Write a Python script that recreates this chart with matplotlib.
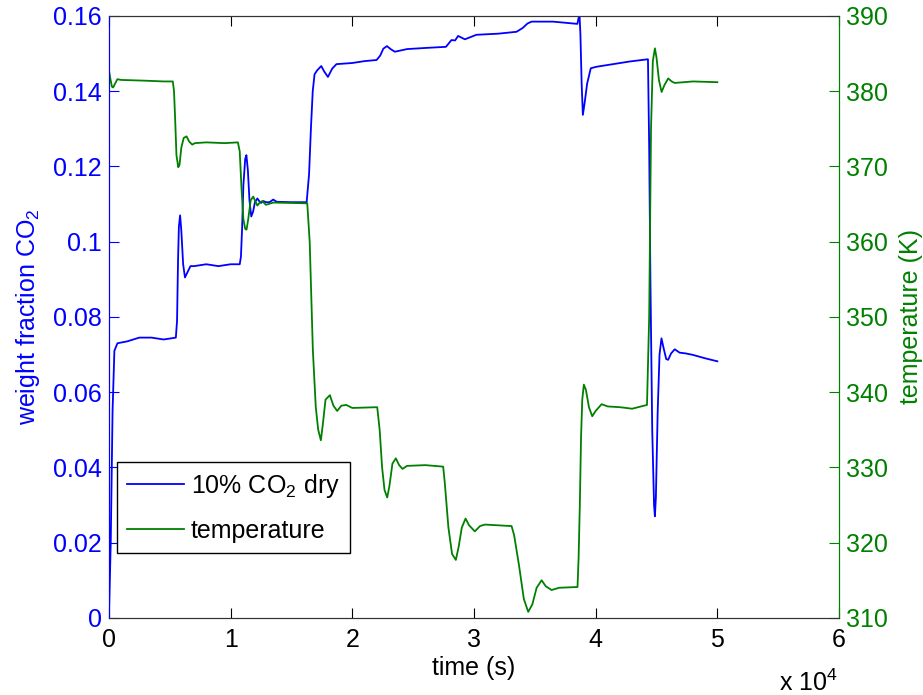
import matplotlib
matplotlib.use('Agg')
import matplotlib.pyplot as plt
from matplotlib.ticker import FuncFormatter
from matplotlib.lines import Line2D

plt.rcParams['font.family'] = ['Liberation Sans', 'DejaVu Sans']
plt.rcParams['mathtext.default'] = 'regular'

# CO2 weight fraction (10% CO2 dry)
co2_time = [0, 150, 300, 450, 700, 1500, 2500, 3500, 4500, 5500,
            5600, 5680, 5750, 5850, 5950, 6100, 6250, 6400, 6700, 7000,
            8000, 9000, 10000, 10750, 10850, 10950, 11050, 11200, 11300, 11420,
            11550, 11700, 11850, 12000, 12200, 12350, 12500, 12700, 12900, 13200,
            13500, 13800, 15000, 16250, 16450, 16600, 16750, 16900, 17100, 17450,
            17700, 18000, 18350, 18700, 20000, 21000, 22000, 22300, 22550, 22850,
            23150, 23500, 24500, 26000, 27700, 28150, 28450, 28700, 29250, 30200,
            32000, 33500, 34000, 34400, 34730, 36500, 38500, 38600, 38680, 38750,
            38850, 38950, 39100, 39300, 39600, 40070, 42800, 44300, 44400, 44500,
            44650, 44800, 44870, 44950, 45100, 45250, 45410, 45600, 45800, 45960,
            46200, 46500, 46900, 47400, 48000, 49000, 50000]
co2_frac = [0.0, 0.02, 0.055, 0.071, 0.073, 0.0735, 0.0745, 0.0745, 0.074, 0.0745,
            0.079, 0.095, 0.104, 0.107, 0.103, 0.094, 0.0905, 0.0915, 0.0935, 0.0935,
            0.094, 0.0935, 0.094, 0.094, 0.096, 0.104, 0.115, 0.122, 0.123, 0.119,
            0.111, 0.1067, 0.108, 0.1105, 0.1115, 0.1108, 0.1103, 0.1108, 0.1105, 0.1105,
            0.1112, 0.1106, 0.1105, 0.1105, 0.118, 0.13, 0.14, 0.1445, 0.1455, 0.1467,
            0.1452, 0.1438, 0.146, 0.1472, 0.1475, 0.148, 0.1483, 0.1495, 0.1513, 0.152,
            0.1512, 0.1505, 0.1512, 0.1515, 0.1518, 0.1536, 0.1535, 0.1547, 0.1538, 0.155,
            0.1553, 0.1558, 0.1568, 0.158, 0.1585, 0.1585, 0.1579, 0.1595, 0.16, 0.155,
            0.142, 0.1337, 0.137, 0.142, 0.1461, 0.1465, 0.1479, 0.1485, 0.125, 0.09,
            0.05, 0.03, 0.027, 0.032, 0.055, 0.07, 0.0743, 0.0715, 0.0688, 0.0686,
            0.0703, 0.0714, 0.0705, 0.0703, 0.0699, 0.069, 0.0682]

# temperature (K)
temp_time = [0, 100, 250, 350, 500, 700, 1000, 3000, 4500, 5250,
             5350, 5450, 5550, 5700, 5800, 5950, 6150, 6380, 6600, 6850,
             7070, 8000, 9500, 10600, 10750, 10900, 11050, 11200, 11310, 11450,
             11650, 11860, 12050, 12200, 12400, 12600, 12900, 13500, 16300, 16500,
             16760, 17000, 17200, 17420, 17600, 17800, 18160, 18450, 18760, 19100,
             19500, 20000, 22050, 22250, 22450, 22650, 22870, 23050, 23300, 23580,
             23850, 24130, 24500, 26000, 27470, 27600, 27900, 28200, 28510, 28750,
             29000, 29310, 29600, 30070, 30500, 30900, 33090, 33300, 33700, 34100,
             34460, 34800, 35150, 35560, 35900, 36380, 37000, 38510, 38600, 38700,
             38800, 38900, 39030, 39200, 39450, 39720, 40000, 40490, 41000, 42000,
             43000, 44220, 44400, 44550, 44700, 44870, 45000, 45200, 45420, 45650,
             45960, 46250, 46500, 48000, 50000]
temp_K = [382.8, 381.8, 380.6, 380.5, 381.0, 381.6, 381.5, 381.4, 381.3, 381.3,
          380, 376, 371.5, 369.9, 370.2, 372.5, 373.8, 374.0, 373.3, 372.9,
          373.1, 373.2, 373.1, 373.2, 372, 367, 363, 361.7, 361.6, 363,
          365.5, 366.0, 365.3, 364.8, 365.2, 365.4, 364.9, 365.2, 365.1, 360,
          345.6, 338, 335, 333.6, 336, 339, 339.6, 338.2, 337.5, 338.2,
          338.3, 337.9, 338, 335, 330, 327, 326.0, 327.5, 330.5, 331.2,
          330.3, 329.8, 330.2, 330.3, 330.1, 328, 322, 318.5, 317.7, 319.5,
          322, 323.2, 322.3, 321.5, 322.2, 322.4, 322.2, 321, 317, 312.5,
          310.8, 311.8, 314, 315.0, 314.2, 313.7, 314.0, 314.1, 318, 325,
          334, 339, 341.0, 340.3, 338, 336.8, 337.5, 338.4, 338.1, 338.0,
          337.8, 338.3, 350, 375, 384, 385.7, 384.5, 381.5, 379.9, 380.8,
          381.7, 381.3, 381.1, 381.3, 381.2]

x_ticks = [0, 10000, 20000, 30000, 40000, 50000, 60000]
left_ticks = [0, 0.02, 0.04, 0.06, 0.08, 0.1, 0.12, 0.14, 0.16]
right_ticks = [310, 320, 330, 340, 350, 360, 370, 380, 390]

blue = (0, 0, 1)
green = (0, 0.5, 0)
fs = 18

fig = plt.figure(figsize=(9.23, 6.95), dpi=100)
ax = fig.add_axes([0.118, 0.111, 0.791, 0.866])
ax.plot(co2_time, co2_frac, color=blue, lw=1.3)
ax.set_xlim(0, 60000)
ax.set_ylim(0, 0.16)
ax.set_xticks(x_ticks)
ax.xaxis.set_major_formatter(FuncFormatter(lambda v, p: '%g' % (v / 1e4)))
ax.set_yticks(left_ticks)
ax.set_yticklabels(['%g' % v for v in left_ticks])
ax.tick_params(axis='x', direction='in', length=7, labelsize=fs, top=True, colors='black', pad=7)
ax.tick_params(axis='y', direction='in', length=7, labelsize=fs, colors=blue, pad=5)
ax.set_xlabel('time (s)', fontsize=fs, labelpad=3)
ax.set_ylabel('weight fraction CO$_2$', fontsize=fs, color=blue, labelpad=8)

ax2 = ax.twinx()
ax2.plot(temp_time, temp_K, color=green, lw=1.3)
ax2.set_ylim(310, 390)
ax2.set_yticks(right_ticks)
ax2.tick_params(axis='y', direction='in', length=7, labelsize=fs, colors=green, pad=5)
ax2.set_ylabel('temperature (K)', fontsize=fs, color=green, labelpad=8)

for a in (ax, ax2):
    a.spines['left'].set_color(blue)
    a.spines['right'].set_color(green)
    a.spines['top'].set_color('#333333')
    a.spines['bottom'].set_color('#333333')

handles = [Line2D([], [], color=blue, lw=1.3), Line2D([], [], color=green, lw=1.3)]
leg = ax2.legend(handles, ['10% CO$_2$ dry', 'temperature'], loc='lower left',
                 bbox_to_anchor=(0.011, 0.108), borderaxespad=0, fontsize=fs,
                 fancybox=False, edgecolor='black', framealpha=1,
                 handlelength=2.3, handletextpad=0.25, labelspacing=0.75,
                 borderpad=0.4)
leg.get_frame().set_linewidth(1.0)

fig.text(838 / 923, 1 - 683 / 695, 'x 10$^{4}$', fontsize=fs, ha='right', va='center')

fig.savefig('out.png', dpi=100)
